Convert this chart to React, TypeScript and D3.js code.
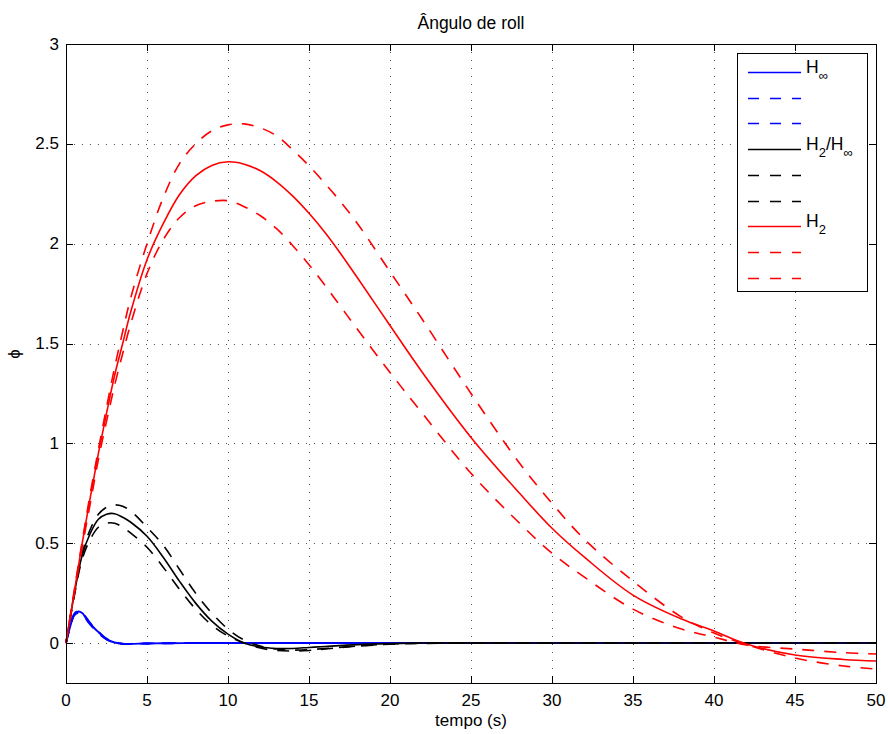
import React from "react";
import * as d3 from "d3";

// ---------- data ----------
const tBlue = [0, 0.25, 0.5, 0.75, 1, 1.25, 1.5, 1.75, 2, 2.5, 3, 3.5, 4, 5, 6, 8, 10, 20, 30, 40, 50];
const blueSolid = [0, 0.08, 0.14, 0.158, 0.15, 0.122, 0.097, 0.074, 0.055, 0.02, 0.003, -0.004, -0.004, -0.002, -0.001, 0, 0, 0, 0, 0, 0];
const blueUp = [0, 0.085, 0.145, 0.162, 0.153, 0.128, 0.1, 0.078, 0.057, 0.022, 0.004, -0.003, -0.004, -0.002, -0.001, 0, 0, 0, 0, 0, 0];
const blueLow = [0, 0.078, 0.138, 0.152, 0.143, 0.118, 0.092, 0.07, 0.05, 0.018, 0.002, -0.005, -0.004, -0.002, -0.001, 0, 0, 0, 0, 0, 0];

const tBlack = [0, 0.5, 1, 1.5, 2, 2.5, 3, 3.5, 4, 5, 6, 7, 8, 9, 10, 11, 12, 13, 14, 15, 16, 18, 20, 22, 25, 30, 40, 50];
const blackSolid = [0, 0.24, 0.44, 0.55, 0.62, 0.645, 0.648, 0.63, 0.605, 0.535, 0.43, 0.31, 0.2, 0.11, 0.045, 0.0, -0.02, -0.027, -0.027, -0.022, -0.017, -0.008, -0.003, 0, 0.001, 0, 0, 0];
const blackUp = [0, 0.24, 0.45, 0.57, 0.645, 0.68, 0.692, 0.685, 0.66, 0.58, 0.49, 0.37, 0.25, 0.15, 0.07, 0.015, -0.015, -0.03, -0.035, -0.033, -0.027, -0.015, -0.006, -0.002, 0, 0, 0, 0];
const blackLow = [0, 0.23, 0.42, 0.52, 0.58, 0.6, 0.6, 0.58, 0.55, 0.48, 0.38, 0.27, 0.17, 0.09, 0.035, 0.0, -0.025, -0.037, -0.04, -0.037, -0.03, -0.015, -0.005, -0.001, 0, 0, 0, 0];

const tRed = [0, 0.5, 1, 1.5, 2, 2.5, 3, 3.5, 4, 5, 6, 7, 8, 9, 10, 11, 12, 13, 14, 15, 16, 17, 18, 20, 22, 25, 28, 30, 32, 35, 38, 40, 42, 45, 48, 50];
const redSolid = [0, 0.25, 0.5, 0.73, 0.95, 1.15, 1.34, 1.5, 1.66, 1.92, 2.1, 2.245, 2.34, 2.392, 2.41, 2.398, 2.365, 2.31, 2.238, 2.152, 2.055, 1.945, 1.828, 1.59, 1.355, 1.03, 0.75, 0.575, 0.43, 0.24, 0.12, 0.06, -0.005, -0.06, -0.082, -0.09];
const redUp = [0, 0.26, 0.51, 0.75, 0.97, 1.18, 1.38, 1.56, 1.73, 2.0, 2.23, 2.4, 2.5, 2.565, 2.595, 2.6, 2.58, 2.54, 2.47, 2.39, 2.3, 2.205, 2.1, 1.86, 1.62, 1.25, 0.9, 0.7, 0.52, 0.31, 0.13, 0.05, -0.008, -0.075, -0.115, -0.13];
const redLow = [0, 0.24, 0.48, 0.7, 0.92, 1.11, 1.29, 1.45, 1.6, 1.85, 2.02, 2.13, 2.19, 2.212, 2.215, 2.185, 2.14, 2.075, 1.99, 1.895, 1.79, 1.68, 1.57, 1.355, 1.15, 0.85, 0.6, 0.45, 0.33, 0.17, 0.07, 0.03, -0.01, -0.03, -0.048, -0.055];

const xTicks = [0, 5, 10, 15, 20, 25, 30, 35, 40, 45, 50];
const yTicks = [0, 0.5, 1, 1.5, 2, 2.5, 3];
const yTickLabels = ["0", "0.5", "1", "1.5", "2", "2.5", "3"];

const titleText = "Ângulo de roll";
const xLabelText = "tempo (s)";
const yLabelText = "ϕ";

type Series = { t: number[]; v: number[]; color: string; dashed: boolean };
const series: Series[] = [
  { t: tBlue, v: blueSolid, color: "#0000ff", dashed: false },
  { t: tBlue, v: blueUp, color: "#0000ff", dashed: true },
  { t: tBlue, v: blueLow, color: "#0000ff", dashed: true },
  { t: tBlack, v: blackSolid, color: "#000000", dashed: false },
  { t: tBlack, v: blackUp, color: "#000000", dashed: true },
  { t: tBlack, v: blackLow, color: "#000000", dashed: true },
  { t: tRed, v: redSolid, color: "#ff0000", dashed: false },
  { t: tRed, v: redUp, color: "#ff0000", dashed: true },
  { t: tRed, v: redLow, color: "#ff0000", dashed: true },
];

// legend labels: [main, sub] pieces
const legendLabels: (string[][] | null)[] = [
  [["H", ""], ["", "∞"]],
  null,
  null,
  [["H", ""], ["", "2"], ["/H", ""], ["", "∞"]],
  null,
  null,
  [["H", ""], ["", "2"]],
  null,
  null,
];

export default function App() {
  const W = 888, H = 734;
  const L = 66, R = 876, T = 44, B = 683;
  const x = d3.scaleLinear().domain([0, 50]).range([L, R]);
  const y = d3.scaleLinear().domain([-0.2, 3]).range([B, T]);
  const font = "'Liberation Sans', Arial, Helvetica, sans-serif";

  const line = (s: Series) =>
    d3
      .line<number>()
      .x((_, i) => x(s.t[i]))
      .y((d) => y(d))
      .curve(d3.curveCatmullRom.alpha(0.5))(s.v) || "";

  const tickLen = 7;
  const legX1 = 748, legX2 = 801, legTextX = 806;
  const legRowY = (i: number) => Math.round(72 + i * 25.7) + 0.5;

  return (
    <svg
      width={W}
      height={H}
      style={{ position: "absolute", left: 0, top: 0, background: "#fff" }}
      fontFamily={font}
    >
      <rect x={0} y={0} width={W} height={H} fill="#fff" />
      {/* grid */}
      <g stroke="#555" strokeWidth={1} strokeDasharray="1,7">
        {xTicks.slice(1, -1).map((t) => (
          <line key={"gx" + t} x1={x(t) + 0.5} x2={x(t) + 0.5} y1={T} y2={B} />
        ))}
        {yTicks.slice(0, -1).map((v) => (
          <line key={"gy" + v} x1={L} x2={R} y1={Math.round(y(v)) + 0.5} y2={Math.round(y(v)) + 0.5} />
        ))}
      </g>
      {/* data lines */}
      <g fill="none" strokeLinejoin="round">
        {series.map((s, i) => (
          <path
            key={i}
            d={line(s)}
            stroke={s.color}
            strokeWidth={i < 3 ? 1.9 : 1.6}
            strokeDasharray={s.dashed ? "12,10" : undefined}
          />
        ))}
      </g>
      {/* axes box */}
      <rect x={L + 0.5} y={T + 0.5} width={R - L} height={B - T} fill="none" stroke="#000" strokeWidth={1} />
      <g stroke="#000" strokeWidth={1}>
        {xTicks.map((t) => (
          <g key={"xt" + t}>
            <line x1={x(t) + 0.5} x2={x(t) + 0.5} y1={B} y2={B - tickLen} />
            <line x1={x(t) + 0.5} x2={x(t) + 0.5} y1={T} y2={T + tickLen} />
          </g>
        ))}
        {yTicks.map((v) => (
          <g key={"yt" + v}>
            <line x1={L} x2={L + tickLen} y1={Math.round(y(v)) + 0.5} y2={Math.round(y(v)) + 0.5} />
            <line x1={R} x2={R - tickLen} y1={Math.round(y(v)) + 0.5} y2={Math.round(y(v)) + 0.5} />
          </g>
        ))}
      </g>
      {/* tick labels */}
      <g fontSize={17} fill="#000">
        {xTicks.map((t) => (
          <text key={"xl" + t} x={x(t)} y={706} textAnchor="middle">
            {String(t)}
          </text>
        ))}
        {yTicks.map((v, i) => (
          <text key={"yl" + v} x={59} y={y(v)} textAnchor="end" dominantBaseline="central">
            {yTickLabels[i]}
          </text>
        ))}
      </g>
      <text x={(L + R) / 2} y={29} textAnchor="middle" fontSize={17.5}>
        {titleText}
      </text>
      <text x={(L + R) / 2} y={726} textAnchor="middle" fontSize={17}>
        {xLabelText}
      </text>
      <text
        x={0}
        y={0}
        fontSize={17}
        textAnchor="middle"
        dominantBaseline="central"
        transform={`translate(14,354) rotate(-90)`}
      >
        {yLabelText}
      </text>
      {/* legend */}
      <rect x={737.5} y={53.5} width={130} height={238} fill="#fff" stroke="#000" strokeWidth={1} />
      {series.map((s, i) => {
        const ly = legRowY(i);
        const lab = legendLabels[i];
        return (
          <g key={"lg" + i}>
            <line
              x1={legX1}
              x2={legX2}
              y1={ly}
              y2={ly}
              stroke={s.color}
              strokeWidth={1.6}
              strokeDasharray={s.dashed ? "11,11" : undefined}
            />
            {lab && (
              <text x={legTextX} y={ly} fontSize={17.5} fill="#000">
                {lab.map((p, j) =>
                  p[0] ? (
                    <tspan key={j} dy={j > 0 && lab[j - 1][1] ? -7 : 0}>
                      {p[0]}
                    </tspan>
                  ) : (
                    <tspan key={j} fontSize={13} dy={7}>
                      {p[1]}
                    </tspan>
                  )
                )}
              </text>
            )}
          </g>
        );
      })}
    </svg>
  );
}
